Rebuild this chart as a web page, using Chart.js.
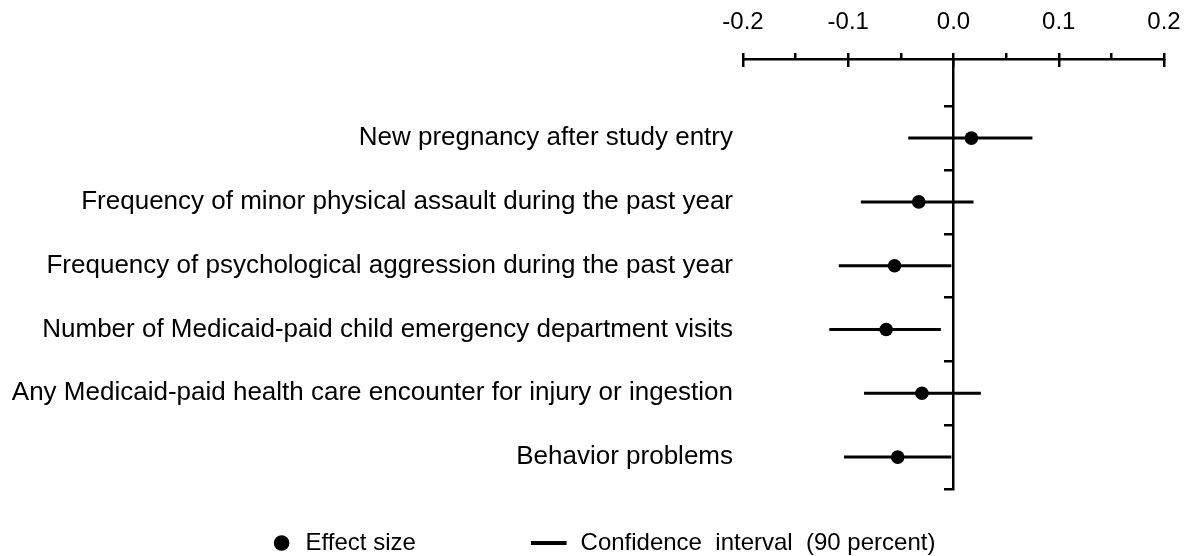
<!DOCTYPE html>
<html>
<head>
<meta charset="utf-8">
<script src="https://cdn.jsdelivr.net/npm/chart.js@4.4.1/dist/chart.umd.min.js"></script>
<style>
  html, body { margin: 0; padding: 0; background: #ffffff; }
  canvas { display: block; }
</style>
</head>
<body>
<canvas id="c" width="1197" height="556"></canvas>
<script>
// ---------- data ----------
const categories = [
  "New pregnancy after study entry",
  "Frequency of minor physical assault during the past year",
  "Frequency of psychological aggression during the past year",
  "Number of Medicaid-paid child emergency department visits",
  "Any Medicaid-paid health care encounter for injury or ingestion",
  "Behavior problems"
];
const effectSize = [0.017, -0.033, -0.056, -0.064, -0.030, -0.053];
const ciLow      = [-0.043, -0.088, -0.109, -0.118, -0.085, -0.104];
const ciHigh     = [0.075, 0.019, -0.002, -0.012, 0.026, -0.002];
const xMajorTicks = [-0.2, -0.1, 0.0, 0.1, 0.2];
const xMinorTicks = [-0.15, -0.05, 0.05, 0.15];
const legendLabels = ["Effect size", "Confidence  interval  (90 percent)"];

// ---------- helpers ----------
const FONT = "'Liberation Sans', Arial, Helvetica, sans-serif";
const n = categories.length;
const rowOf = i => n - 1 - i;
const Y_MIN = -0.5, Y_MAX = 6.24;
const rowBounds = Array.from({ length: n + 1 }, (_, k) => k - 0.5);
const PAD_L = 8;

const pointData = effectSize.map((v, i) => ({ x: v, y: rowOf(i) }));
const ciData = [];
ciLow.forEach((lo, i) => {
  ciData.push({ x: lo, y: rowOf(i) }, { x: ciHigh[i], y: rowOf(i) }, { x: null, y: null });
});

// legend icon for the confidence-interval entry (a short bar, offset left)
const lineIcon = document.createElement('canvas');
lineIcon.width = 52; lineIcon.height = 4;
const lctx = lineIcon.getContext('2d');
lctx.fillStyle = '#000';
lctx.fillRect(0, 0, 36, 4);

new Chart(document.getElementById('c'), {
  type: 'scatter',
  data: {
    datasets: [
      {
        label: legendLabels[0],
        data: pointData,
        xAxisID: 'x', yAxisID: 'y',
        pointStyle: 'circle',
        pointRadius: 6.8, pointHoverRadius: 6.8,
        backgroundColor: '#000', borderWidth: 0
      },
      {
        label: legendLabels[1],
        data: ciData,
        xAxisID: 'x', yAxisID: 'y',
        showLine: true, spanGaps: false,
        borderColor: '#000', borderWidth: 3, borderCapStyle: 'butt',
        pointRadius: 0, pointHoverRadius: 0
      }
    ]
  },
  options: {
    responsive: false,
    devicePixelRatio: 1,
    animation: false,
    events: [],
    layout: { padding: { left: PAD_L, right: 0, top: 0, bottom: 0 } },
    plugins: {
      tooltip: { enabled: false },
      legend: {
        position: 'bottom',
        maxHeight: 67,
        labels: {
          usePointStyle: true,
          boxWidth: 24, boxHeight: 11,
          padding: 42,
          color: '#000',
          font: { family: FONT, size: 24 },
          generateLabels: () => [
            { text: legendLabels[0] + ' '.repeat(13), fillStyle: '#000', strokeStyle: '#000', lineWidth: 0,
              pointStyle: 'circle', hidden: false, datasetIndex: 0, fontColor: '#000' },
            { text: legendLabels[1], fillStyle: '#000', strokeStyle: '#000', lineWidth: 0,
              pointStyle: lineIcon, hidden: false, datasetIndex: 1, fontColor: '#000' }
          ]
        }
      }
    },
    scales: {
      x: {
        type: 'linear', axis: 'x', position: 'top',
        min: -0.2, max: 0.2,
        afterBuildTicks: s => {
          s.ticks = [...xMajorTicks, ...xMinorTicks].sort((a, b) => a - b).map(v => ({ value: v }));
        },
        afterFit: s => { s.height = 59; },
        ticks: {
          autoSkip: false, maxRotation: 0, minRotation: 0,
          padding: 16, color: '#000',
          font: { family: FONT, size: 24 },
          callback: v => xMajorTicks.some(m => Math.abs(m - v) < 1e-9) ? Number(v).toFixed(1) : ''
        },
        grid: { drawOnChartArea: false, drawTicks: true, tickLength: 6, color: '#000', lineWidth: 2.5 },
        border: { display: true, color: '#000', width: 2.5 }
      },
      xdown: {
        type: 'linear', axis: 'x', position: { y: Y_MAX },
        min: -0.2, max: 0.2,
        afterBuildTicks: s => { s.ticks = xMajorTicks.map(v => ({ value: v })); },
        ticks: { display: false },
        grid: { drawOnChartArea: false, drawTicks: true, tickLength: 8, color: '#000', lineWidth: 2.5 },
        border: { display: false }
      },
      y: {
        type: 'linear', axis: 'y', position: { x: 0 },
        min: Y_MIN, max: Y_MAX,
        afterBuildTicks: s => { s.ticks = rowBounds.map(v => ({ value: v })); },
        ticks: { display: false },
        grid: { drawOnChartArea: false, drawTicks: true, tickLength: 8, color: '#000', lineWidth: 2.5 },
        border: { display: true, color: '#000', width: 2.5 }
      },
      yl: {
        type: 'linear', axis: 'y', position: 'left',
        min: Y_MIN, max: Y_MAX,
        afterBuildTicks: s => { s.ticks = categories.map((c, i) => ({ value: rowOf(i) })); },
        afterFit: s => { s.width = 743 - PAD_L; },
        ticks: {
          autoSkip: false, padding: 10, color: '#000',
          font: { family: FONT, size: 26 },
          callback: v => categories[n - 1 - Math.round(v)]
        },
        grid: { display: false, drawTicks: false },
        border: { display: false }
      },
      yr: {
        type: 'linear', axis: 'y', position: 'right',
        min: Y_MIN, max: Y_MAX,
        afterFit: s => { s.width = 33; },
        ticks: { display: false },
        grid: { display: false, drawTicks: false },
        border: { display: false }
      }
    }
  }
});
</script>
</body>
</html>
